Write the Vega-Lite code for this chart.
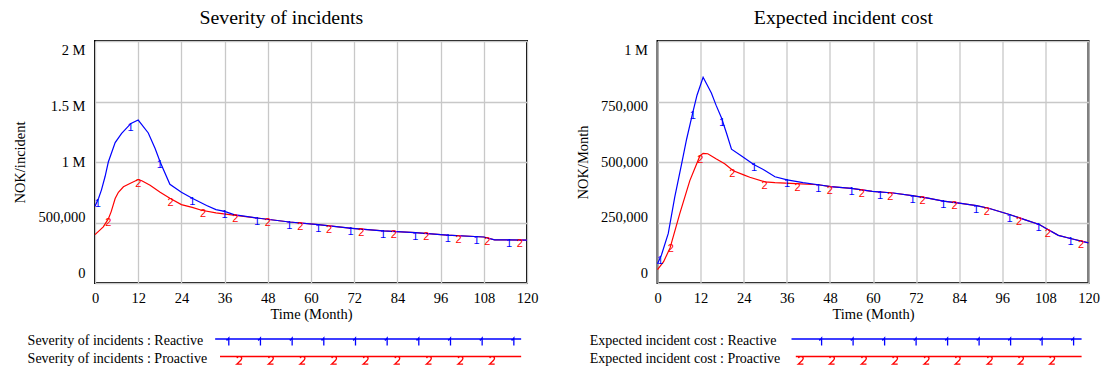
{
  "$schema": "https://vega.github.io/schema/vega-lite/v6.json",
  "padding": {"left": 11, "top": 6, "right": 5, "bottom": 0},
  "config": {
    "font": "Liberation Serif",
    "view": {"stroke": "black", "strokeWidth": 2},
    "axis": {"labelFont": "Liberation Serif", "labelFontSize": 14.5, "labelColor": "black", "titleFont": "Liberation Serif", "titleFontSize": 14.5, "titleFontWeight": "normal", "titleColor": "black", "gridColor": "#c8c8c8", "gridWidth": 1.3, "domain": false, "ticks": false, "labelOverlap": false, "labelFlush": false},
    "axisX": {"labelPadding": 8, "titlePadding": 3},
    "axisY": {"labelPadding": 10, "titlePadding": 10},
    "title": {"font": "Liberation Serif", "fontSize": 19.8, "fontWeight": "normal", "color": "black", "offset": 13.5, "frame": "bounds", "dx": 6},
    "legend": {"orient": "bottom", "direction": "vertical", "title": null, "labelFont": "Liberation Serif", "labelFontSize": 14, "labelColor": "black", "labelLimit": 400, "symbolSize": 100, "symbolStrokeWidth": 1.3, "rowPadding": 2.5, "padding": 0, "offset": 13}
  },
  "datasets": {
    "sev": [
      {"series": "Proactive", "month": 0, "value": 400000},
      {"series": "Proactive", "month": 2.3, "value": 464000},
      {"series": "Proactive", "month": 3.7, "value": 530000},
      {"series": "Proactive", "month": 4.5, "value": 590000},
      {"series": "Proactive", "month": 5.6, "value": 698000},
      {"series": "Proactive", "month": 6.5, "value": 750000},
      {"series": "Proactive", "month": 7.9, "value": 795000},
      {"series": "Proactive", "month": 9.7, "value": 822000},
      {"series": "Proactive", "month": 12, "value": 855000},
      {"series": "Proactive", "month": 13, "value": 845000},
      {"series": "Proactive", "month": 15.3, "value": 808000},
      {"series": "Proactive", "month": 18.1, "value": 750000},
      {"series": "Proactive", "month": 20.8, "value": 700000},
      {"series": "Proactive", "month": 24, "value": 648000},
      {"series": "Proactive", "month": 27, "value": 625000},
      {"series": "Proactive", "month": 29.6, "value": 601000},
      {"series": "Proactive", "month": 33.6, "value": 580000},
      {"series": "Proactive", "month": 39, "value": 559000},
      {"series": "Proactive", "month": 45, "value": 537000},
      {"series": "Proactive", "month": 54, "value": 504000},
      {"series": "Proactive", "month": 62, "value": 482000},
      {"series": "Proactive", "month": 71.4, "value": 452000},
      {"series": "Proactive", "month": 80, "value": 430000},
      {"series": "Proactive", "month": 89, "value": 417000},
      {"series": "Proactive", "month": 97.8, "value": 396000},
      {"series": "Proactive", "month": 108, "value": 380000},
      {"series": "Proactive", "month": 111, "value": 357000},
      {"series": "Proactive", "month": 120, "value": 355000},
      {"series": "Reactive", "month": 0, "value": 635000},
      {"series": "Reactive", "month": 1, "value": 700000},
      {"series": "Reactive", "month": 1.8, "value": 770000},
      {"series": "Reactive", "month": 2.8, "value": 880000},
      {"series": "Reactive", "month": 3.7, "value": 1000000},
      {"series": "Reactive", "month": 5.6, "value": 1160000},
      {"series": "Reactive", "month": 7.4, "value": 1236000},
      {"series": "Reactive", "month": 10, "value": 1319000},
      {"series": "Reactive", "month": 12, "value": 1347000},
      {"series": "Reactive", "month": 14.8, "value": 1240000},
      {"series": "Reactive", "month": 16.7, "value": 1112000},
      {"series": "Reactive", "month": 18.1, "value": 1000000},
      {"series": "Reactive", "month": 20.8, "value": 816000},
      {"series": "Reactive", "month": 24, "value": 750000},
      {"series": "Reactive", "month": 27, "value": 700000},
      {"series": "Reactive", "month": 31, "value": 640000},
      {"series": "Reactive", "month": 33.6, "value": 606000},
      {"series": "Reactive", "month": 36, "value": 592000},
      {"series": "Reactive", "month": 38.6, "value": 565000},
      {"series": "Reactive", "month": 45, "value": 537000},
      {"series": "Reactive", "month": 54, "value": 504000},
      {"series": "Reactive", "month": 62, "value": 482000},
      {"series": "Reactive", "month": 71.4, "value": 452000},
      {"series": "Reactive", "month": 80, "value": 430000},
      {"series": "Reactive", "month": 89, "value": 417000},
      {"series": "Reactive", "month": 97.8, "value": 396000},
      {"series": "Reactive", "month": 108, "value": 380000},
      {"series": "Reactive", "month": 111, "value": 357000},
      {"series": "Reactive", "month": 120, "value": 355000}
    ],
    "sevMarks": [
      {"series": "Reactive", "month": 0.8, "value": 690000},
      {"series": "Reactive", "month": 9.9, "value": 1315000},
      {"series": "Reactive", "month": 18, "value": 1010000},
      {"series": "Reactive", "month": 27, "value": 700000},
      {"series": "Reactive", "month": 36, "value": 592000},
      {"series": "Reactive", "month": 45, "value": 537000},
      {"series": "Reactive", "month": 54, "value": 504000},
      {"series": "Reactive", "month": 62, "value": 482000},
      {"series": "Reactive", "month": 71, "value": 453000},
      {"series": "Reactive", "month": 80, "value": 430000},
      {"series": "Reactive", "month": 89, "value": 417000},
      {"series": "Reactive", "month": 98, "value": 396000},
      {"series": "Reactive", "month": 106, "value": 384000},
      {"series": "Reactive", "month": 115, "value": 356000},
      {"series": "Proactive", "month": 3.7, "value": 530000},
      {"series": "Proactive", "month": 12, "value": 855000},
      {"series": "Proactive", "month": 21, "value": 697000},
      {"series": "Proactive", "month": 30, "value": 600000},
      {"series": "Proactive", "month": 39, "value": 559000},
      {"series": "Proactive", "month": 48, "value": 525000},
      {"series": "Proactive", "month": 57, "value": 495000},
      {"series": "Proactive", "month": 65, "value": 472000},
      {"series": "Proactive", "month": 74, "value": 445000},
      {"series": "Proactive", "month": 83, "value": 426000},
      {"series": "Proactive", "month": 92, "value": 410000},
      {"series": "Proactive", "month": 101, "value": 391000},
      {"series": "Proactive", "month": 109, "value": 372000},
      {"series": "Proactive", "month": 118, "value": 355000}
    ],
    "cost": [
      {"series": "Proactive", "month": 0, "value": 55000},
      {"series": "Proactive", "month": 1.7, "value": 88000},
      {"series": "Proactive", "month": 3.5, "value": 145000},
      {"series": "Proactive", "month": 6.2, "value": 287000},
      {"series": "Proactive", "month": 9, "value": 423000},
      {"series": "Proactive", "month": 11.8, "value": 525000},
      {"series": "Proactive", "month": 12.7, "value": 536000},
      {"series": "Proactive", "month": 14, "value": 534000},
      {"series": "Proactive", "month": 16.4, "value": 512000},
      {"series": "Proactive", "month": 18.7, "value": 493000},
      {"series": "Proactive", "month": 21.1, "value": 464000},
      {"series": "Proactive", "month": 24, "value": 447000},
      {"series": "Proactive", "month": 25.7, "value": 437000},
      {"series": "Proactive", "month": 29.9, "value": 418000},
      {"series": "Proactive", "month": 32.7, "value": 415000},
      {"series": "Proactive", "month": 38.5, "value": 411000},
      {"series": "Proactive", "month": 44.8, "value": 406000},
      {"series": "Proactive", "month": 48.2, "value": 398000},
      {"series": "Proactive", "month": 54, "value": 391000},
      {"series": "Proactive", "month": 59.8, "value": 379000},
      {"series": "Proactive", "month": 65.6, "value": 372000},
      {"series": "Proactive", "month": 70.9, "value": 361000},
      {"series": "Proactive", "month": 75.3, "value": 351000},
      {"series": "Proactive", "month": 79.6, "value": 338000},
      {"series": "Proactive", "month": 84, "value": 330000},
      {"series": "Proactive", "month": 88.8, "value": 320000},
      {"series": "Proactive", "month": 92.2, "value": 309000},
      {"series": "Proactive", "month": 98, "value": 283000},
      {"series": "Proactive", "month": 102.4, "value": 261000},
      {"series": "Proactive", "month": 106.3, "value": 242000},
      {"series": "Proactive", "month": 108.2, "value": 225000},
      {"series": "Proactive", "month": 111.6, "value": 197000},
      {"series": "Proactive", "month": 115, "value": 184000},
      {"series": "Proactive", "month": 120, "value": 166000},
      {"series": "Reactive", "month": 0, "value": 80000},
      {"series": "Reactive", "month": 1.1, "value": 116000},
      {"series": "Reactive", "month": 3, "value": 205000},
      {"series": "Reactive", "month": 4.8, "value": 355000},
      {"series": "Reactive", "month": 6.7, "value": 491000},
      {"series": "Reactive", "month": 8.1, "value": 594000},
      {"series": "Reactive", "month": 9.9, "value": 709000},
      {"series": "Reactive", "month": 11, "value": 776000},
      {"series": "Reactive", "month": 12.7, "value": 850000},
      {"series": "Reactive", "month": 15, "value": 785000},
      {"series": "Reactive", "month": 16.3, "value": 735000},
      {"series": "Reactive", "month": 17.8, "value": 683000},
      {"series": "Reactive", "month": 19.2, "value": 620000},
      {"series": "Reactive", "month": 20.6, "value": 553000},
      {"series": "Reactive", "month": 23.5, "value": 524000},
      {"series": "Reactive", "month": 26.8, "value": 490000},
      {"series": "Reactive", "month": 29.8, "value": 466000},
      {"series": "Reactive", "month": 32.7, "value": 439000},
      {"series": "Reactive", "month": 36.1, "value": 426000},
      {"series": "Reactive", "month": 40.5, "value": 415000},
      {"series": "Reactive", "month": 44.8, "value": 406000},
      {"series": "Reactive", "month": 48.2, "value": 398000},
      {"series": "Reactive", "month": 54, "value": 391000},
      {"series": "Reactive", "month": 59.8, "value": 379000},
      {"series": "Reactive", "month": 65.6, "value": 372000},
      {"series": "Reactive", "month": 70.9, "value": 361000},
      {"series": "Reactive", "month": 75.3, "value": 351000},
      {"series": "Reactive", "month": 79.6, "value": 338000},
      {"series": "Reactive", "month": 84, "value": 330000},
      {"series": "Reactive", "month": 88.8, "value": 320000},
      {"series": "Reactive", "month": 92.2, "value": 309000},
      {"series": "Reactive", "month": 98, "value": 283000},
      {"series": "Reactive", "month": 102.4, "value": 261000},
      {"series": "Reactive", "month": 106.3, "value": 242000},
      {"series": "Reactive", "month": 108.2, "value": 225000},
      {"series": "Reactive", "month": 111.6, "value": 197000},
      {"series": "Reactive", "month": 115, "value": 184000},
      {"series": "Reactive", "month": 120, "value": 166000}
    ],
    "costMarks": [
      {"series": "Reactive", "month": 0.8, "value": 108000},
      {"series": "Reactive", "month": 9.8, "value": 705000},
      {"series": "Reactive", "month": 18, "value": 676000},
      {"series": "Reactive", "month": 26.9, "value": 490000},
      {"series": "Reactive", "month": 36.1, "value": 426000},
      {"series": "Reactive", "month": 44.8, "value": 406000},
      {"series": "Reactive", "month": 54, "value": 391000},
      {"series": "Reactive", "month": 62, "value": 376000},
      {"series": "Reactive", "month": 71, "value": 361000},
      {"series": "Reactive", "month": 79.6, "value": 338000},
      {"series": "Reactive", "month": 88.7, "value": 320000},
      {"series": "Reactive", "month": 98, "value": 283000},
      {"series": "Reactive", "month": 106.1, "value": 243000},
      {"series": "Reactive", "month": 115, "value": 184000},
      {"series": "Proactive", "month": 3.7, "value": 155000},
      {"series": "Proactive", "month": 11.9, "value": 526000},
      {"series": "Proactive", "month": 20.8, "value": 468000},
      {"series": "Proactive", "month": 29.8, "value": 418000},
      {"series": "Proactive", "month": 39, "value": 411000},
      {"series": "Proactive", "month": 48, "value": 398000},
      {"series": "Proactive", "month": 56.9, "value": 386000},
      {"series": "Proactive", "month": 64.8, "value": 373000},
      {"series": "Proactive", "month": 73.8, "value": 355000},
      {"series": "Proactive", "month": 82.7, "value": 333000},
      {"series": "Proactive", "month": 91.7, "value": 311000},
      {"series": "Proactive", "month": 100.7, "value": 268000},
      {"series": "Proactive", "month": 108.7, "value": 220000},
      {"series": "Proactive", "month": 117.9, "value": 172000}
    ]
  },
  "spacing": 34.5,
  "resolve": {"scale": {"color": "independent", "x": "independent", "y": "independent"}, "legend": {"color": "independent"}},
  "hconcat": [
    {
      "title": {"text": "Severity of incidents"},
      "width": 432,
      "height": 242,
      "layer": [
        {
          "data": {"name": "sev"},
          "mark": {"type": "line", "strokeWidth": 1.2},
          "encoding": {
            "x": {"field": "month", "type": "quantitative", "scale": {"domain": [0, 120], "nice": false}, "axis": {"title": "Time (Month)", "values": [0,6,12,18,24,30,36,42,48,54,60,66,72,78,84,90,96,102,108,114,120], "labelExpr": "datum.value % 12 === 0 ? datum.label : ''"}},
            "y": {"field": "value", "type": "quantitative", "scale": {"domain": [0, 2000000], "nice": false}, "axis": {"title": "NOK/incident", "values": [0, 500000, 1000000, 1500000, 2000000], "labelExpr": "datum.value >= 1000000 ? format(datum.value/1000000, '~g') + ' M' : format(datum.value, ',')", "labelOffset": {"expr": "(datum.value/2000000*2-1)*9.6"}}},
            "color": {"field": "series", "type": "nominal", "scale": {"domain": ["Reactive", "Proactive"], "range": ["#0000ff", "#ff0000"]},
              "legend": {"labelExpr": "'Severity of incidents : ' + datum.label", "labelOffset": -347.55, "symbolOffset": 266.15,
                "encode": {
                  "symbols": {"update": {"fill": {"value": "transparent"}, "shape": {"signal": "datum.value === 'Reactive' ? 'M-30.6,-0.4H30.6M-27.87,0.9V-0.6l-0.45,0.5M-21.54,0.9V-0.6l-0.45,0.5M-15.2,0.9V-0.6l-0.45,0.5M-8.87,0.9V-0.6l-0.45,0.5M-2.53,0.9V-0.6l-0.45,0.5M3.8,0.9V-0.6l-0.45,0.5M10.13,0.9V-0.6l-0.45,0.5M16.47,0.9V-0.6l-0.45,0.5M22.8,0.9V-0.6l-0.45,0.5M29.14,0.9V-0.6l-0.45,0.5' : 'M-29.63,-0.4H30.6M-26.23,-0.08c0.06,-0.24 0.26,-0.32 0.46,-0.32c0.28,0 0.48,0.16 0.48,0.4c0,0.28 -0.28,0.52 -1,1.14h1.04M-19.91,-0.08c0.06,-0.24 0.26,-0.32 0.46,-0.32c0.28,0 0.48,0.16 0.48,0.4c0,0.28 -0.28,0.52 -1,1.14h1.04M-13.59,-0.08c0.06,-0.24 0.26,-0.32 0.46,-0.32c0.28,0 0.48,0.16 0.48,0.4c0,0.28 -0.28,0.52 -1,1.14h1.04M-7.27,-0.08c0.06,-0.24 0.26,-0.32 0.46,-0.32c0.28,0 0.48,0.16 0.48,0.4c0,0.28 -0.28,0.52 -1,1.14h1.04M-0.95,-0.08c0.06,-0.24 0.26,-0.32 0.46,-0.32c0.28,0 0.48,0.16 0.48,0.4c0,0.28 -0.28,0.52 -1,1.14h1.04M5.37,-0.08c0.06,-0.24 0.26,-0.32 0.46,-0.32c0.28,0 0.48,0.16 0.48,0.4c0,0.28 -0.28,0.52 -1,1.14h1.04M11.69,-0.08c0.06,-0.24 0.26,-0.32 0.46,-0.32c0.28,0 0.48,0.16 0.48,0.4c0,0.28 -0.28,0.52 -1,1.14h1.04M18.01,-0.08c0.06,-0.24 0.26,-0.32 0.46,-0.32c0.28,0 0.48,0.16 0.48,0.4c0,0.28 -0.28,0.52 -1,1.14h1.04M24.33,-0.08c0.06,-0.24 0.26,-0.32 0.46,-0.32c0.28,0 0.48,0.16 0.48,0.4c0,0.28 -0.28,0.52 -1,1.14h1.04'"}}}
                }}}
          }
        },
        {
          "data": {"name": "sevMarks"},
          "mark": {"type": "text", "font": "Liberation Sans", "fontSize": 11, "baseline": "top", "dy": -2},
          "encoding": {
            "x": {"field": "month", "type": "quantitative"},
            "y": {"field": "value", "type": "quantitative"},
            "text": {"condition": {"test": "datum.series === 'Reactive'", "value": "1"}, "value": "2"},
            "color": {"condition": {"test": "datum.series === 'Reactive'", "value": "#0000ff"}, "value": "#ff0000"}
          }
        }
      ]
    },
    {
      "title": {"text": "Expected incident cost"},
      "width": 431,
      "height": 242,
      "layer": [
        {
          "data": {"name": "cost"},
          "mark": {"type": "line", "strokeWidth": 1.2},
          "encoding": {
            "x": {"field": "month", "type": "quantitative", "scale": {"domain": [0, 120], "nice": false}, "axis": {"title": "Time (Month)", "values": [0,6,12,18,24,30,36,42,48,54,60,66,72,78,84,90,96,102,108,114,120], "labelExpr": "datum.value % 12 === 0 ? datum.label : ''"}},
            "y": {"field": "value", "type": "quantitative", "scale": {"domain": [0, 1000000], "nice": false}, "axis": {"title": "NOK/Month", "values": [0, 250000, 500000, 750000, 1000000], "labelExpr": "datum.value >= 1000000 ? format(datum.value/1000000, '~g') + ' M' : format(datum.value, ',')", "labelOffset": {"expr": "(datum.value/1000000*2-1)*9.6"}}},
            "color": {"field": "series", "type": "nominal", "scale": {"domain": ["Reactive", "Proactive"], "range": ["#0000ff", "#ff0000"]},
              "legend": {"labelExpr": "'Expected incident cost : ' + datum.label", "labelOffset": -353.75, "symbolOffset": 272.05,
                "encode": {
                  "symbols": {"update": {"fill": {"value": "transparent"}, "shape": {"signal": "datum.value === 'Reactive' ? 'M-29.01,-0.4H29.01M-22.99,0.9V-0.6l-0.45,0.5M-16.69,0.9V-0.6l-0.45,0.5M-10.39,0.9V-0.6l-0.45,0.5M-4.09,0.9V-0.6l-0.45,0.5M2.21,0.9V-0.6l-0.45,0.5M8.51,0.9V-0.6l-0.45,0.5M14.81,0.9V-0.6l-0.45,0.5M21.11,0.9V-0.6l-0.45,0.5M27.41,0.9V-0.6l-0.45,0.5' : 'M-28.15,-0.4H29.01M-27.61,-0.08c0.06,-0.24 0.26,-0.32 0.46,-0.32c0.28,0 0.48,0.16 0.48,0.4c0,0.28 -0.28,0.52 -1,1.14h1.04M-21.37,-0.08c0.06,-0.24 0.26,-0.32 0.46,-0.32c0.28,0 0.48,0.16 0.48,0.4c0,0.28 -0.28,0.52 -1,1.14h1.04M-14.99,-0.08c0.06,-0.24 0.26,-0.32 0.46,-0.32c0.28,0 0.48,0.16 0.48,0.4c0,0.28 -0.28,0.52 -1,1.14h1.04M-8.75,-0.08c0.06,-0.24 0.26,-0.32 0.46,-0.32c0.28,0 0.48,0.16 0.48,0.4c0,0.28 -0.28,0.52 -1,1.14h1.04M-2.45,-0.08c0.06,-0.24 0.26,-0.32 0.46,-0.32c0.28,0 0.48,0.16 0.48,0.4c0,0.28 -0.28,0.52 -1,1.14h1.04M3.79,-0.08c0.06,-0.24 0.26,-0.32 0.46,-0.32c0.28,0 0.48,0.16 0.48,0.4c0,0.28 -0.28,0.52 -1,1.14h1.04M10.19,-0.08c0.06,-0.24 0.26,-0.32 0.46,-0.32c0.28,0 0.48,0.16 0.48,0.4c0,0.28 -0.28,0.52 -1,1.14h1.04M16.43,-0.08c0.06,-0.24 0.26,-0.32 0.46,-0.32c0.28,0 0.48,0.16 0.48,0.4c0,0.28 -0.28,0.52 -1,1.14h1.04M22.67,-0.08c0.06,-0.24 0.26,-0.32 0.46,-0.32c0.28,0 0.48,0.16 0.48,0.4c0,0.28 -0.28,0.52 -1,1.14h1.04'"}}}
                }}}
          }
        },
        {
          "data": {"name": "costMarks"},
          "mark": {"type": "text", "font": "Liberation Sans", "fontSize": 11, "baseline": "top", "dy": -2},
          "encoding": {
            "x": {"field": "month", "type": "quantitative"},
            "y": {"field": "value", "type": "quantitative"},
            "text": {"condition": {"test": "datum.series === 'Reactive'", "value": "1"}, "value": "2"},
            "color": {"condition": {"test": "datum.series === 'Reactive'", "value": "#0000ff"}, "value": "#ff0000"}
          }
        }
      ]
    }
  ]
}
